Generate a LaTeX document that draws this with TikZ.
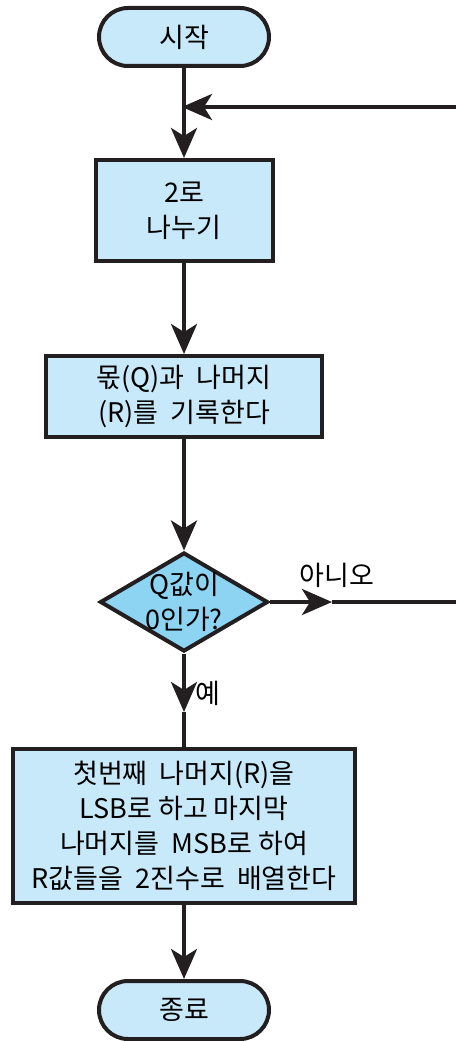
\documentclass[tikz,border=0pt]{standalone}
\usepackage{fontspec}
\setmainfont{Noto Sans CJK KR}
\usetikzlibrary{shapes.geometric,arrows.meta}
\definecolor{ink}{HTML}{231F20}
\definecolor{boxblue}{HTML}{C8E9F9}
\definecolor{diablue}{HTML}{8DD3F2}

\begin{document}
\begin{tikzpicture}[x=1pt, y=1pt,
    font=\fontsize{27}{35}\selectfont,
    term/.style={draw=ink, fill=boxblue, line width=4pt, rounded corners=29pt,
      minimum width=170pt, minimum height=58pt},
    proc/.style={draw=ink, fill=boxblue, line width=4pt, align=center},
    decide/.style={diamond, draw=ink, fill=diablue, line width=4pt, align=center,
      inner sep=-16pt, minimum width=168pt, minimum height=99pt},
    flow/.style={draw=ink, line width=4pt, -{Stealth[length=30pt,width=26pt,inset=8pt]}},
    wire/.style={draw=ink, line width=4pt}]
    \useasboundingbox (0,0) rectangle (455,-1041);

    \node [term] (start) at (184,-37) {시작};
    \node [proc, minimum width=177pt, minimum height=101pt] (divide) at (184,-210.5) {2로\\나누기};
    \node [proc, minimum width=276pt, minimum height=81pt] (record) at (184,-396.5)
      {몫(Q)과\ \ 나머지\\(R)를\ \ 기록한다};
    \node [decide] (check) at (184,-602) {Q값이\\0인가?};
    \node [proc, minimum width=342pt, minimum height=154pt] (arrange) at (184,-826)
      {첫번째\ \ 나머지(R)을\\LSB로 하고 마지막\\나머지를\ \ MSB로 하여\\R값들을\ \ 2진수로\ \ 배열한다};
    \node [term] (stop) at (184,-1010) {종료};

    \node (no) at (337,-575) {아니오};
    \node [anchor=west, inner sep=0pt] (yes) at (195,-693) {예};

    \coordinate (joint) at (182,-107);
    \coordinate (nohead) at (332,-602);
    \coordinate (noedge) at (470,-602);
    \coordinate (backedge) at (470,-107);
    \coordinate (yeshead) at (184,-712);

    \draw [flow] (start.south) -- (divide.north);
    \draw [flow] (noedge) -- (backedge) -- (joint);
    \draw [flow] (divide.south) -- (record.north);
    \draw [flow] (record.south) -- (check.north);
    \draw [flow] (check.east) -- (nohead);
    \draw [wire] (nohead) -- (noedge);
    \draw [flow] (check.south) -- (yeshead);
    \draw [wire] (yeshead) -- (arrange.north);
    \draw [flow] (arrange.south) -- (stop.north);
\end{tikzpicture}
\end{document}
